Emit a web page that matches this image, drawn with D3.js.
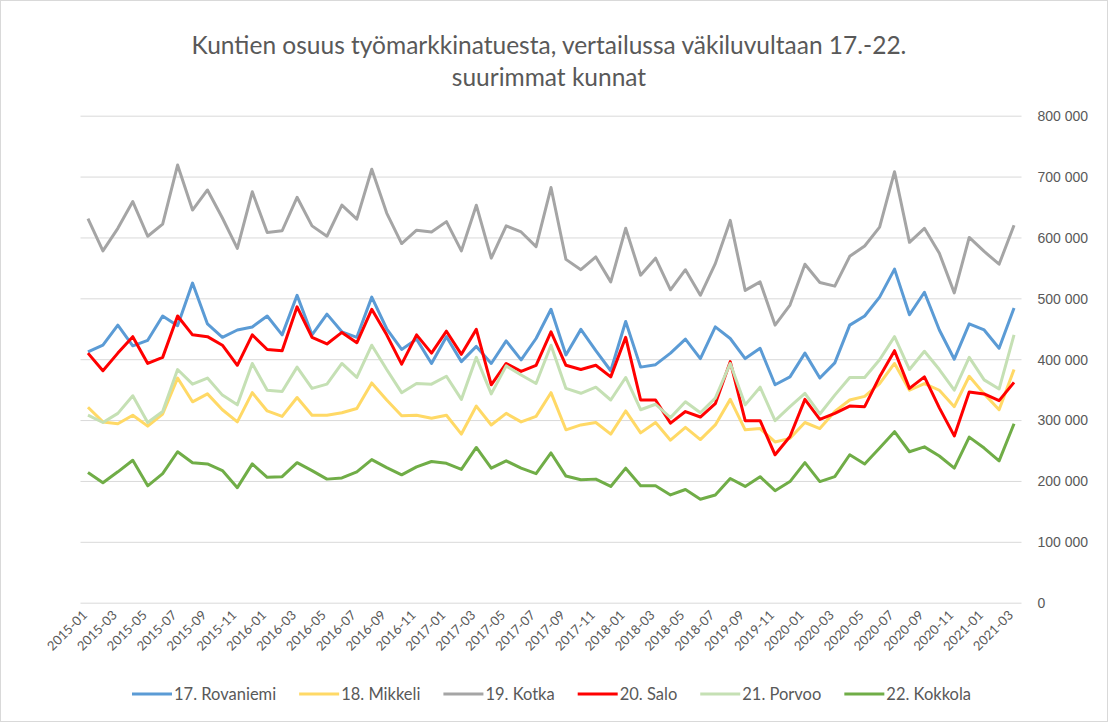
<!DOCTYPE html>
<html>
<head>
<meta charset="utf-8">
<script src="https://cdn.jsdelivr.net/npm/d3@7"></script>
<style>
  body { margin: 0; background: #fff; }
  svg { font-family: Lato, "Open Sans", sans-serif; }
  .axis path { display: none; }
  .grid line { stroke: #d9d9d9; stroke-width: 1; }
  .grid text { fill: #595959; font-size: 14px; }
</style>
</head>
<body>
<div id="chart"></div>
<script>
// months shown on the category axis (data jumps after 2018-08)
const months = [
  "2015-01","2015-02","2015-03","2015-04","2015-05","2015-06","2015-07","2015-08","2015-09","2015-10","2015-11","2015-12",
  "2016-01","2016-02","2016-03","2016-04","2016-05","2016-06","2016-07","2016-08","2016-09","2016-10","2016-11","2016-12",
  "2017-01","2017-02","2017-03","2017-04","2017-05","2017-06","2017-07","2017-08","2017-09","2017-10","2017-11","2017-12",
  "2018-01","2018-02","2018-03","2018-04","2018-05","2018-06","2018-07","2018-08",
  "2019-09","2019-10","2019-11","2019-12",
  "2020-01","2020-02","2020-03","2020-04","2020-05","2020-06","2020-07","2020-08","2020-09","2020-10","2020-11","2020-12",
  "2021-01","2021-02","2021-03"
];

// values in thousands
const rovaniemi = [412,423,456,422,431,471,455,525,458,436,448,453,471,440,505,440,474,445,436,502,
  450,416,433,393,437,396,421,393,430,399,434,482,407,449,414,381,462,387,391,410,433,401,
  453,434,401,418,358,371,410,369,394,456,471,502,548,473,510,448,400,458,448,418,484];
const mikkeli = [321,297,294,308,290,310,369,330,343,317,297,345,315,306,337,308,308,312,319,361,
  333,307,308,303,308,277,323,292,311,297,306,345,284,292,296,277,315,279,296,267,288,268,
  292,334,284,286,264,270,296,286,314,333,339,360,393,349,360,349,322,372,343,317,383];
const kotka = [631,578,615,659,602,622,719,645,678,632,582,675,608,611,666,619,602,653,630,712,
  640,590,612,609,626,578,653,566,619,609,585,682,564,547,568,527,615,538,566,514,547,505,
  557,628,513,527,456,489,556,526,520,569,586,617,708,592,615,574,509,600,577,556,620];
const salo = [410,381,410,437,393,403,471,440,437,423,390,440,416,414,486,436,425,444,427,482,
  440,392,440,410,446,408,449,358,393,380,390,445,390,383,390,371,436,333,333,295,314,305,
  327,396,299,299,243,273,334,301,311,323,322,371,414,352,371,320,274,346,343,332,362];
const porvoo = [308,296,311,340,296,314,383,359,369,341,325,393,349,347,387,352,359,393,370,423,
  383,345,360,359,372,334,403,343,389,374,360,423,352,344,354,333,370,317,326,304,330,312,
  336,393,325,354,299,322,344,310,341,370,370,399,437,383,413,383,349,403,366,351,440];
const kokkola = [214,197,215,234,192,212,248,230,228,217,189,228,206,207,230,217,203,205,215,235,
  222,210,223,232,229,219,255,221,233,221,212,246,208,202,203,191,221,192,192,177,186,170,
  177,204,191,207,184,199,230,199,207,243,228,254,281,248,256,241,221,272,254,233,294];

const seriesNames = ["17. Rovaniemi","18. Mikkeli","19. Kotka","20. Salo","21. Porvoo","22. Kokkola"];
const seriesValues = [rovaniemi, mikkeli, kotka, salo, porvoo, kokkola];
const seriesColors = ["#5b9bd5","#ffd966","#a5a5a5","#ff0000","#c5e0b4","#70ad47"];
const yTicks = [0,100000,200000,300000,400000,500000,600000,700000,800000];

const width = 1108, height = 722;
const margin = {top: 115.7, right: 86.5, bottom: 119.3, left: 80.5};

const svg = d3.select("#chart").append("svg")
  .attr("width", width)
  .attr("height", height);

svg.append("rect")
  .attr("x", 0.5).attr("y", 0.5)
  .attr("width", width - 1).attr("height", height - 1)
  .attr("fill", "#fff").attr("stroke", "#d9d9d9");

// title
const title = svg.append("text")
  .attr("text-anchor", "middle")
  .attr("fill", "#595959")
  .style("font-size", "24.5px");
title.append("tspan").attr("x", 549).attr("y", 54)
  .text("Kuntien osuus työmarkkinatuesta, vertailussa väkiluvultaan 17.-22.");
title.append("tspan").attr("x", 549).attr("y", 86)
  .text("suurimmat kunnat");

const x = d3.scaleBand()
  .domain(months)
  .range([margin.left, width - margin.right])
  .padding(0);

const y = d3.scaleLinear()
  .domain([0, 800000])
  .range([height - margin.bottom, margin.top]);

const fmt = v => d3.format(",")(v).replace(/,/g, " ");

// gridlines + right axis labels
const grid = svg.append("g")
  .attr("class", "grid axis")
  .attr("transform", `translate(${width - margin.right}, 0)`)
  .call(d3.axisRight(y)
    .tickValues(yTicks)
    .tickSize(-(width - margin.left - margin.right))
    .tickPadding(16)
    .tickFormat(fmt));
grid.selectAll("text").attr("text-anchor", "start").attr("dy", "0.35em");

// x labels every second month
const labelMonths = months.filter((m, i) => i % 2 === 0);
svg.append("g")
  .selectAll("text")
  .data(labelMonths)
  .join("text")
  .attr("text-anchor", "end")
  .attr("fill", "#595959")
  .style("font-size", "13px")
  .attr("transform", d => `translate(${x(d) + x.bandwidth() / 2}, 616) rotate(-45)`)
  .text(d => d);

// lines
const line = d3.line()
  .x((d, i) => x(months[i]) + x.bandwidth() / 2)
  .y(d => y(d * 1000));

svg.append("g")
  .selectAll("path")
  .data(seriesValues)
  .join("path")
  .attr("fill", "none")
  .attr("stroke", (d, i) => seriesColors[i])
  .attr("stroke-width", 3)
  .attr("stroke-linejoin", "round")
  .attr("d", line);

// legend
const legend = svg.append("g");
const items = legend.selectAll("g")
  .data(seriesNames)
  .join("g");
items.append("line")
  .attr("x1", 0).attr("x2", 40)
  .attr("y1", 0).attr("y2", 0)
  .attr("stroke", (d, i) => seriesColors[i])
  .attr("stroke-width", 3);
items.append("text")
  .attr("x", 42)
  .attr("dy", "0.35em")
  .attr("fill", "#595959")
  .style("font-size", "16.5px")
  .text(d => d);

let pos = 0;
const offsets = [];
items.each(function() {
  offsets.push(pos);
  pos += 42 + this.querySelector("text").getComputedTextLength() + 23;
});
const total = pos - 23;
const start = 551.5 - total / 2;
items.attr("transform", (d, i) => `translate(${start + offsets[i]}, 694)`);
</script>
</body>
</html>
